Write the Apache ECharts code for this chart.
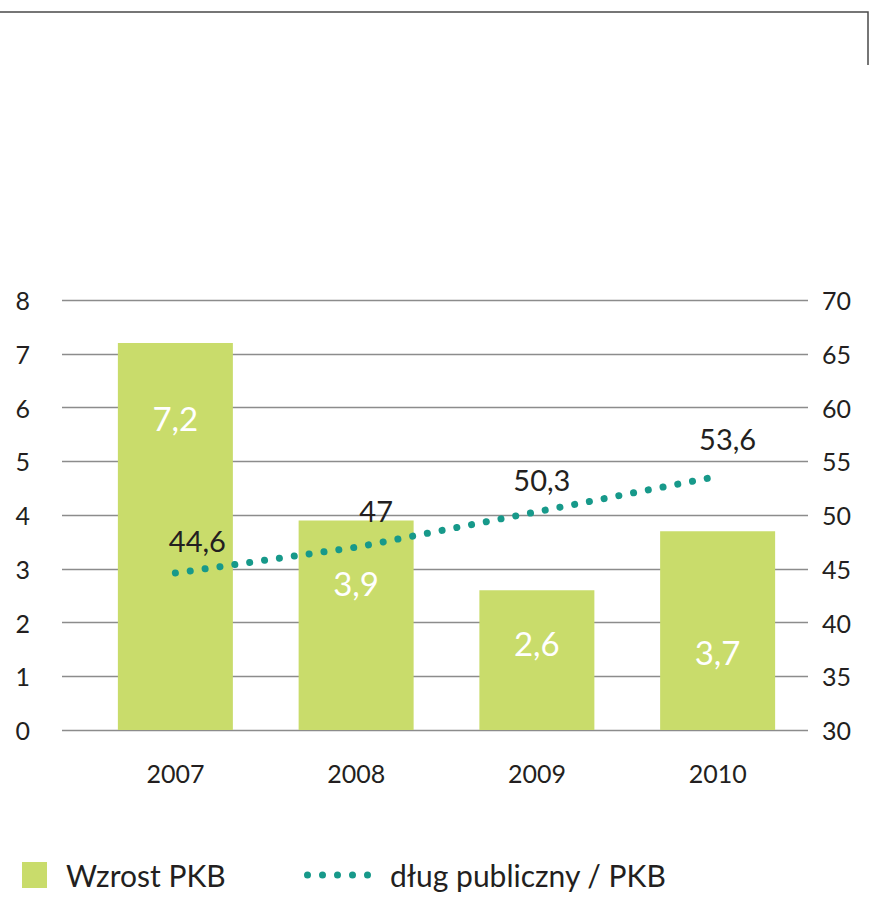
<!DOCTYPE html>
<html>
<head>
<meta charset="utf-8">
<script src="https://cdn.jsdelivr.net/npm/echarts@6/dist/echarts.min.js"></script>
<style>
html,body{margin:0;padding:0;background:#fff;}
#chart{width:875px;height:897px;}
</style>
</head>
<body>
<div id="chart"></div>
<script>
const categories = ['2007', '2008', '2009', '2010'];
const gdpGrowth = [7.2, 3.9, 2.6, 3.7];
const publicDebt = [44.6, 47, 50.3, 53.6];
const leftTicks = [0, 8, 1];
const rightTicks = [30, 70, 5];
const seriesNames = ['Wzrost PKB', 'dług publiczny / PKB'];

const FONT = 'Lato, "Open Sans", sans-serif';
const GREEN = '#c9dc6b';
const TEAL = '#17998a';
const TXT = '#231f20';

// styling only: label placement tweaks
const barLabelDistance = [58, 46, 36, 104];
const lineLabelOffset = [[22, 0], [20, -4], [5, 0], [10, -5]];

const fmt = v => String(v).replace('.', ',');

const chart = echarts.init(document.getElementById('chart'), null, {renderer: 'svg'});

const dotIcon = 'path://' + [0,1,2,3,4].map(i => {
  const cx = 3.5 + i * 15;
  return `M${cx-3.5},3.5a3.5,3.5 0 1,0 7,0a3.5,3.5 0 1,0 -7,0Z`;
}).join(' ');

const legendText = {fontFamily: FONT, fontSize: 30, lineHeight: 32, color: TXT};

chart.setOption({
  animation: false,
  backgroundColor: '#fff',
  textStyle: {fontFamily: FONT, color: TXT},
  grid: [
    {left: 62, right: 67, top: 300, bottom: 167},
    {left: 85, right: 67, top: 300, bottom: 167}
  ],
  legend: [
    {
      data: [{name: seriesNames[0], icon: 'rect'}],
      left: 22, top: 859, padding: 0,
      itemWidth: 25, itemHeight: 26,
      textStyle: Object.assign({padding: [0, 0, 0, 14]}, legendText)
    },
    {
      data: [{name: seriesNames[1], icon: dotIcon}],
      left: 304, top: 859, padding: 0,
      itemWidth: 67, itemHeight: 7,
      textStyle: Object.assign({padding: [0, 0, 0, 14]}, legendText)
    }
  ],
  xAxis: [
    {gridIndex: 0, type: 'category', data: categories, show: false},
    {
      gridIndex: 1, type: 'category', data: categories,
      axisLine: {show: false}, axisTick: {show: false},
      axisLabel: {fontFamily: FONT, fontSize: 25, color: TXT, margin: 30}
    }
  ],
  yAxis: [
    {
      gridIndex: 0, type: 'value', position: 'left',
      min: leftTicks[0], max: leftTicks[1], interval: leftTicks[2],
      axisLine: {show: false}, axisTick: {show: false},
      axisLabel: {fontFamily: FONT, fontSize: 25, color: TXT, margin: 32, align: 'right'},
      splitLine: {lineStyle: {color: '#8c8c8c', width: 1.3}}
    },
    {
      gridIndex: 0, type: 'value', position: 'right',
      min: rightTicks[0], max: rightTicks[1], interval: rightTicks[2],
      axisLine: {show: false}, axisTick: {show: false},
      axisLabel: {fontFamily: FONT, fontSize: 25, color: TXT, margin: 14, align: 'left'},
      splitLine: {show: false}
    },
    {gridIndex: 1, type: 'value', min: leftTicks[0], max: leftTicks[1], interval: leftTicks[2], show: false, splitLine: {show: false}},
    {gridIndex: 1, type: 'value', min: rightTicks[0], max: rightTicks[1], interval: rightTicks[2], show: false, splitLine: {show: false}}
  ],
  series: [
    {
      name: seriesNames[0],
      type: 'bar',
      xAxisIndex: 1, yAxisIndex: 2,
      barWidth: 115,
      itemStyle: {color: GREEN},
      data: gdpGrowth.map((v, i) => ({
        value: v,
        label: {distance: barLabelDistance[i]}
      })),
      label: {
        show: true, position: 'insideTop',
        fontFamily: FONT, fontSize: 33, color: '#fff',
        formatter: p => fmt(p.value)
      },
      z: 2
    },
    {
      name: seriesNames[1],
      type: 'line',
      xAxisIndex: 1, yAxisIndex: 3,
      symbol: 'circle', symbolSize: 0.1, showSymbol: true,
      itemStyle: {color: TEAL},
      lineStyle: {color: TEAL, width: 7, type: [0.01, 15], cap: 'round'},
      data: publicDebt.map((v, i) => ({
        value: v,
        label: {offset: lineLabelOffset[i]}
      })),
      label: {
        show: true, position: 'top', distance: 18,
        fontFamily: FONT, fontSize: 29, color: TXT,
        formatter: p => fmt(p.value)
      },
      z: 5
    }
  ],
  graphic: [
    {type: 'polyline', shape: {points: [[0, 12], [868, 12], [868, 65]]},
     style: {stroke: '#4a4a4a', lineWidth: 1.5, fill: null}, silent: true}
  ]
});
</script>
</body>
</html>
